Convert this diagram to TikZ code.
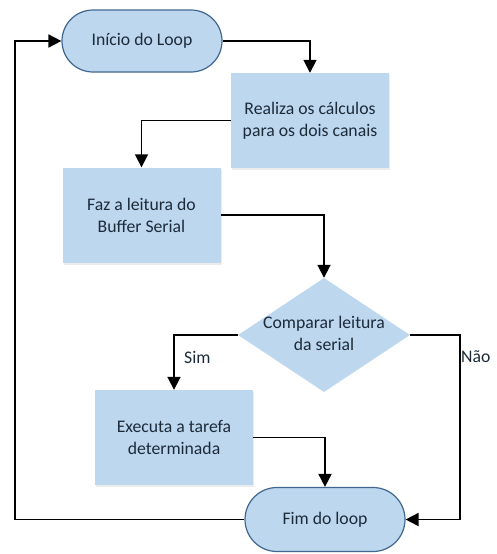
\documentclass[tikz,border=0pt]{standalone}
\usepackage{fontspec}
\setmainfont{Carlito}
\usetikzlibrary{arrows.meta,shapes.geometric,shadows}
\definecolor{boxfill}{HTML}{BDD7EE}
\definecolor{termdraw}{HTML}{41678F}
\definecolor{txt}{HTML}{1C2B3A}
\tikzset{
  base/.style={font=\fontsize{17.7}{22}\selectfont, text=txt, align=center, inner sep=0pt},
  term/.style={base, fill=boxfill, draw=termdraw, line width=1.2pt, minimum width=160pt, minimum height=62pt, rounded corners=31pt},
  proc/.style={base, fill=boxfill, minimum width=158pt, minimum height=95pt,
    drop shadow={shadow xshift=1pt, shadow yshift=-2pt, opacity=0.15, fill=gray}},
  dec/.style={diamond, fill=boxfill, inner sep=0pt, minimum width=172pt, minimum height=114pt},
  lbl/.style={font=\fontsize{17.7}{22}\selectfont, text=txt, inner sep=0pt},
  arr/.style={line width=1.8pt, -{Triangle[length=13pt,width=13pt]}}
}
\begin{document}
\begin{tikzpicture}[x=1pt,y=-1pt]
\useasboundingbox (0,0) rectangle (496,554);
\fill[white] (0,0) rectangle (496,554);
\node[term] (start) at (142,41) {Início do Loop};
\node[proc] (calc) at (310,120.5) {Realiza os cálculos\\para os dois canais};
\node[proc] (read) at (141.5,215) {Faz a leitura do\\Buffer Serial};
\node[dec] (cmp) at (324,335) {};
\node[base] (cmptext) at (324,333) {Comparar leitura\\da serial};
\node[proc] (exec) at (174,437.5) {Executa a tarefa\\determinada};
\node[term, minimum height=64pt, rounded corners=32pt] (fim) at (325,519.5) {Fim do loop};
\coordinate (nao) at (460,335);
\coordinate (loopc) at (15,519.5);
\node[lbl, anchor=west] (sim) at (184,357) {Sim};
\node[lbl, anchor=west] (naol) at (461,357) {Não};
\draw[arr] (start.east) -| (calc.north);
\draw[arr] (calc.west) -| (read.north);
\draw[arr] (read.east) -| (cmp.north);
\draw[arr] (cmp.west) -| (exec.north);
\draw[arr] (cmp.east) -- (nao) |- (fim.east);
\draw[arr] (exec.east) -| (fim.north);
\draw[arr] (fim.west) -- (loopc) |- (start.west);
\end{tikzpicture}
\end{document}
